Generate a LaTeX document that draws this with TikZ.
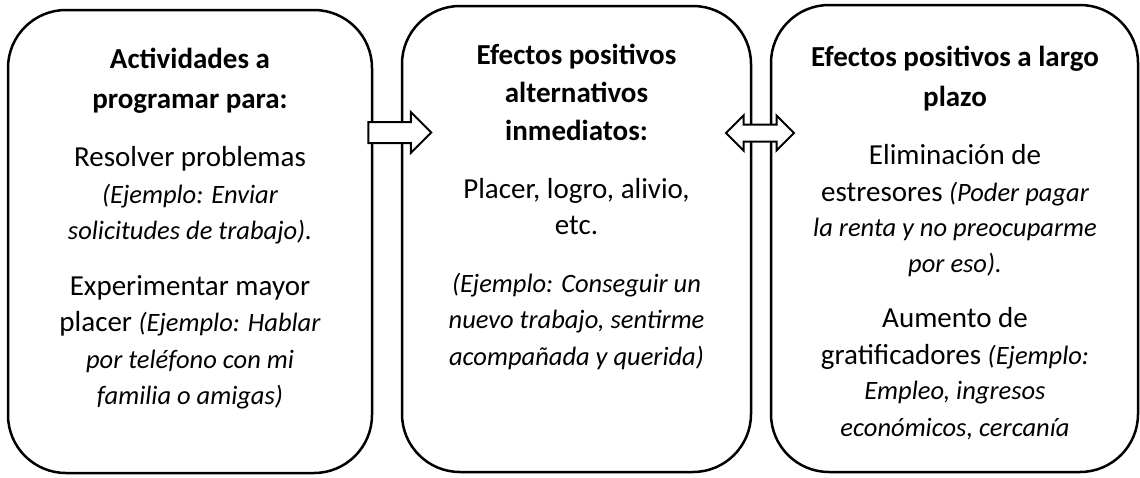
\documentclass[tikz,border=0pt]{standalone}
\usepackage{fontspec}
\setmainfont{Carlito}
\usetikzlibrary{shapes.arrows}

\tikzset{
    caja/.style={draw, line width=2.5pt, rounded corners=58pt},
    texto/.style={align=center, anchor=north, inner sep=0pt, font=\fontsize{29}{36.5}\selectfont},
    flecha/.style={draw, line width=2pt, fill=white, inner xsep=0pt},
}
\newcommand{\ej}[1]{{\itshape\fontsize{26.5}{36.5}\selectfont #1}}

\begin{document}
\begin{tikzpicture}[x=1pt, y=-1pt]
        \useasboundingbox (0,0) rectangle (1140,477);
        % Cajas
        \node[caja, minimum width=364pt, minimum height=463pt] (act) at (190,241.5) {};
        \node[caja, minimum width=349pt, minimum height=466pt] (inm) at (576.5,239) {};
        \node[caja, minimum width=367pt, minimum height=467pt] (lpz) at (954.5,238.5) {};
        % Textos
        \node[texto] (act-txt) at (190,48) {%
            \textbf{Actividades a}\\[3pt]
            \textbf{programar para:}\\[22pt]
            Resolver problemas\\
            \ej{(Ejemplo: Enviar}\\
            \ej{solicitudes de trabajo).}\\[19pt]
            Experimentar mayor\\
            placer \ej{(Ejemplo: Hablar}\\
            \ej{por teléfono con mi}\\
            \ej{familia o amigas)}};
        \node[texto] (inm-txt) at (576.5,44) {%
            \textbf{Efectos positivos}\\[1.5pt]
            \textbf{alternativos}\\[1.5pt]
            \textbf{inmediatos:}\\[21pt]
            Placer, logro, alivio,\\
            etc.\\[21pt]
            \ej{(Ejemplo: Conseguir un}\\
            \ej{nuevo trabajo, sentirme}\\
            \ej{acompañada y querida)}};
        \node[texto] (lpz-txt) at (955,46) {%
            \textbf{Efectos positivos a largo}\\[3pt]
            \textbf{plazo}\\[22pt]
            Eliminación de\\
            estresores \ej{(Poder pagar}\\[-1pt]
            \ej{la renta y no preocuparme}\\[-1pt]
            \ej{por eso).}\\[19pt]
            Aumento de\\
            gratificadores \ej{(Ejemplo:}\\[-1pt]
            \ej{Empleo, ingresos}\\
            \ej{económicos, cercanía}};
        % Flechas
        \node[flecha, single arrow, inner ysep=9.5pt, single arrow head extend=10pt,
              minimum height=63pt] (f1) at (394.5,132.5) {};
        \node[flecha, double arrow, inner ysep=7.5pt, double arrow head extend=9pt,
              minimum height=68pt] (f2) at (760,133) {};
    \end{tikzpicture}
\end{document}
